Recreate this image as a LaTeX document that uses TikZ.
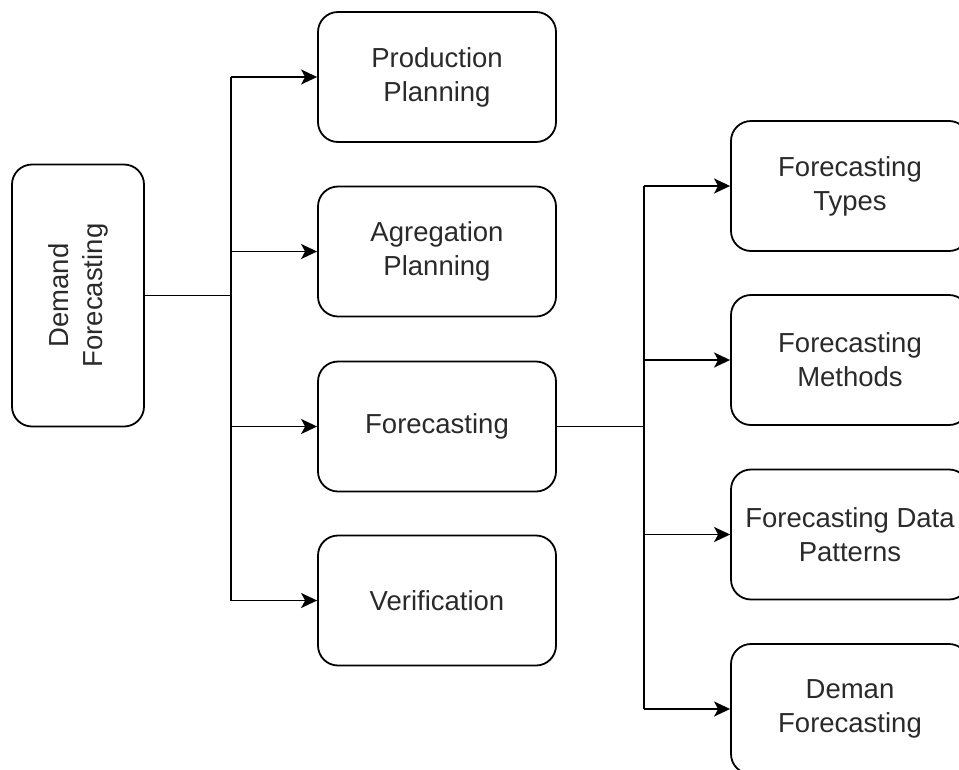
\documentclass[tikz,border=0pt]{standalone}
\usepackage{fontspec}
\setmainfont{Liberation Sans}
\usetikzlibrary{arrows.meta}
\definecolor{txt}{HTML}{2A2A2A}
\tikzset{
  box/.style={draw=black, line width=1.8pt, rounded corners=20pt, minimum width=238pt, minimum height=130pt, inner sep=0pt, font=\fontsize{27.5}{34}\selectfont, text=txt, align=center},
  conn/.style={line width=1.8pt, draw=black},
  arr/.style={conn, -{Stealth[length=16pt, width=15pt, inset=4pt]}},
}
\begin{document}
\begin{tikzpicture}[x=1pt,y=-1pt]
\useasboundingbox (0,0) rectangle (959,769);
\node[box, minimum width=132pt, minimum height=262pt] (DF) at (78,295.5) {};
\node[rotate=90, font=\fontsize{27.5}{34}\selectfont, text=txt, align=center] (DFt) at (DF.center) {Demand\\Forecasting};
\node[box] (PP) at (437,77) {Production\\Planning};
\node[box] (AP) at (437,251.5) {Agregation\\Planning};
\node[box] (F) at (437,426.5) {Forecasting};
\node[box] (V) at (437,600.5) {Verification};
\node[box] (FT) at (850,186) {Forecasting\\Types};
\node[box] (FM) at (850,360) {Forecasting\\Methods};
\node[box] (FDP) at (850,534.5) {Forecasting Data\\Patterns};
\node[box] (DeF) at (850,709) {Deman\\Forecasting};
\coordinate (j1) at (231,295.5);
\coordinate (j2) at (644,426.5);
\draw[conn] (DF.east) -- (j1);
\draw[conn] (j1 |- PP.west) -- (j1 |- V.west);
\foreach \n in {PP,AP,F,V} \draw[arr] (j1 |- \n.west) -- (\n.west);
\draw[conn] (F.east) -- (j2);
\draw[conn] (j2 |- FT.west) -- (j2 |- DeF.west);
\foreach \n in {FT,FM,FDP,DeF} \draw[arr] (j2 |- \n.west) -- (\n.west);
\end{tikzpicture}
\end{document}
